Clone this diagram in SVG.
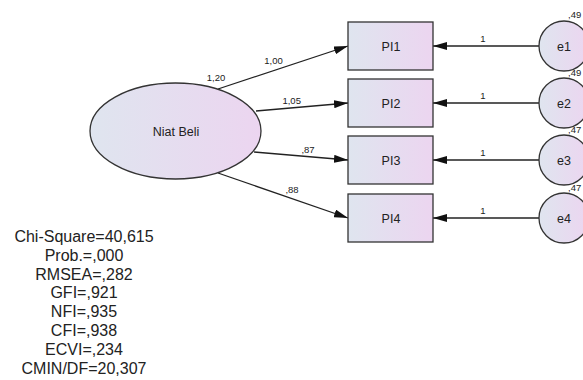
<svg xmlns="http://www.w3.org/2000/svg" width="583" height="380" viewBox="0 0 583 380">
<style>
text{font-family:"Liberation Sans",Arial,sans-serif;fill:#222}
.shape{stroke:#333;stroke-width:1.3;fill:url(#g)}
.lab{font-size:12.5px;text-anchor:middle}
.ptxt{font-size:9.5px;text-anchor:middle}
.var{font-size:9.5px}
.stat{font-size:16px;text-anchor:middle}
.conn line{stroke:#222;stroke-width:1.3;marker-end:url(#ah)}
</style>
<defs>
<linearGradient id="g" x1="0" y1="0" x2="1" y2="0">
<stop offset="0" stop-color="#dfe5ef"/>
<stop offset="1" stop-color="#ecd5f0"/>
</linearGradient>
<marker id="ah" markerWidth="14" markerHeight="8" refX="14" refY="4" orient="auto" markerUnits="userSpaceOnUse">
<path d="M0,0 L14,4 L0,8 Z" fill="#111"/>
</marker>
</defs>
<rect width="583" height="380" fill="#fff"/>
<g id="connectors" class="conn">
<line x1="218" y1="89" x2="348" y2="46"/>
<line x1="256" y1="111" x2="348" y2="103"/>
<line x1="254" y1="152" x2="348" y2="160"/>
<line x1="218" y1="173" x2="348" y2="218"/>
<line x1="539" y1="46" x2="433" y2="46"/>
<line x1="539" y1="103" x2="433" y2="103"/>
<line x1="539" y1="160" x2="433" y2="160"/>
<line x1="539" y1="218" x2="433" y2="218"/>
</g>
<g id="path-labels">
<text class="ptxt" x="216" y="81">1,20</text>
<text class="ptxt" x="273.5" y="63.5">1,00</text>
<text class="ptxt" x="291.7" y="104">1,05</text>
<text class="ptxt" x="308" y="153">,87</text>
<text class="ptxt" x="292" y="193">,88</text>
<text class="ptxt" x="483" y="42">1</text>
<text class="ptxt" x="483" y="99">1</text>
<text class="ptxt" x="483" y="156">1</text>
<text class="ptxt" x="483" y="214">1</text>
</g>
<g id="niat-beli">
<ellipse class="shape" cx="175.5" cy="131" rx="85.5" ry="48"/>
<text class="lab" x="176" y="135.5">Niat Beli</text>
</g>
<g id="PI1"><rect class="shape" x="348" y="22" width="85" height="48"/><text class="lab" x="391" y="50.5">PI1</text></g>
<g id="PI2"><rect class="shape" x="348" y="79" width="85" height="48"/><text class="lab" x="391" y="107.5">PI2</text></g>
<g id="PI3"><rect class="shape" x="348" y="136" width="85" height="48"/><text class="lab" x="391" y="164.5">PI3</text></g>
<g id="PI4"><rect class="shape" x="348" y="194" width="85" height="48"/><text class="lab" x="391" y="222.5">PI4</text></g>
<g id="e1"><circle class="shape" cx="564" cy="46" r="25"/><text class="lab" x="564" y="50.5">e1</text><text class="var" x="568" y="18">,49</text></g>
<g id="e2"><circle class="shape" cx="564" cy="103" r="25"/><text class="lab" x="564" y="107.5">e2</text><text class="var" x="568" y="76">,49</text></g>
<g id="e3"><circle class="shape" cx="564" cy="160" r="25"/><text class="lab" x="564" y="164.5">e3</text><text class="var" x="568" y="133">,47</text></g>
<g id="e4"><circle class="shape" cx="564" cy="218" r="25"/><text class="lab" x="564" y="222.5">e4</text><text class="var" x="568" y="191">,47</text></g>
<g id="stats">
<text class="stat" x="84" y="242">Chi-Square=40,615</text>
<text class="stat" x="84" y="260.8">Prob.=,000</text>
<text class="stat" x="84" y="279.6">RMSEA=,282</text>
<text class="stat" x="84" y="298.4">GFI=,921</text>
<text class="stat" x="84" y="317.2">NFI=,935</text>
<text class="stat" x="84" y="336">CFI=,938</text>
<text class="stat" x="84" y="354.8">ECVI=,234</text>
<text class="stat" x="84" y="373.6">CMIN/DF=20,307</text>
</g>
</svg>
